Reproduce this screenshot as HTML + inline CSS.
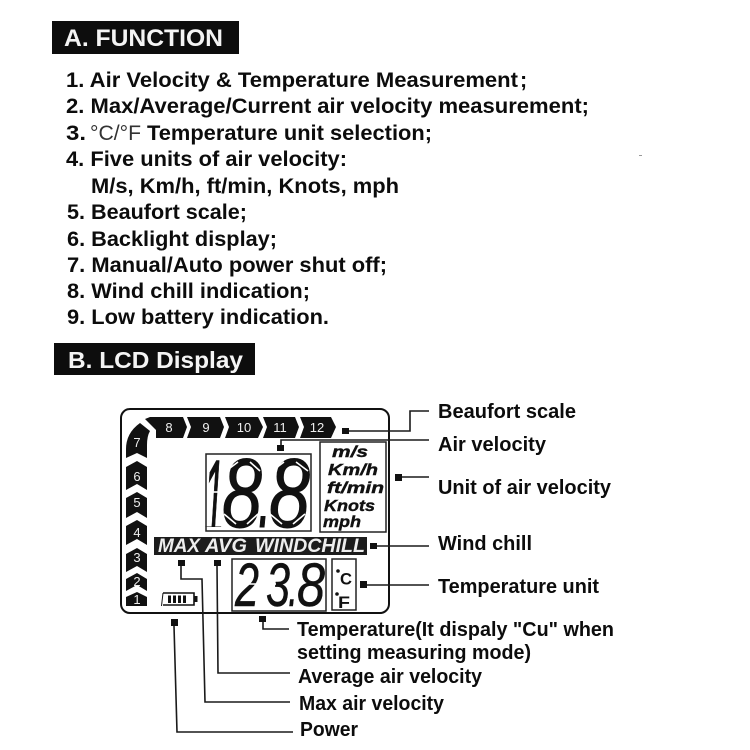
<!DOCTYPE html>
<html lang="en">
<head>
<meta charset="utf-8">
<title>Function and LCD Display</title>
<style>
html,body{margin:0;padding:0;background:#fff;width:750px;height:750px;overflow:hidden}
svg{display:block;filter:blur(.3px)}
text{font-family:"Liberation Sans",sans-serif}
.h{font-weight:700;font-size:24px;fill:#f4f4f4}
.l{font-weight:700;font-size:21.5px;fill:#0c0c0c}
.k{font-weight:700;font-size:20.5px;fill:#0c0c0c}
.n{font-weight:400;font-size:13px;fill:#eee;text-anchor:middle}
.u{font-weight:700;font-style:italic;font-size:16px;fill:#111;stroke:#111;stroke-width:.4}
.b{font-weight:700;font-style:italic;font-size:19px;fill:#eee}
.d{font-weight:400;font-style:italic;font-size:98px;fill:#111;stroke:#111;stroke-width:1}
.t{font-weight:400;font-style:italic;font-size:61px;fill:#111;stroke:#111;stroke-width:.5}
.c{fill:none;stroke:#1a1a1a;stroke-width:1.6}
.s{fill:#111}
.g{stroke:#fff;stroke-width:1.6}
</style>
</head>
<body>
<svg width="750" height="750" viewBox="0 0 750 750" xmlns="http://www.w3.org/2000/svg">
<rect width="750" height="750" fill="#fff"/>

<!-- Section A -->
<rect x="52" y="21" width="187" height="33" fill="#0d0d0d"/>
<text class="h" x="64" y="46" textLength="159" lengthAdjust="spacingAndGlyphs">A. FUNCTION</text>
<text class="l" x="66" y="87" textLength="452" lengthAdjust="spacingAndGlyphs">1. Air Velocity &amp; Temperature Measurement</text>
<text class="l" x="520" y="87">;</text>
<text class="l" x="66" y="113" textLength="523" lengthAdjust="spacingAndGlyphs">2. Max/Average/Current air velocity measurement;</text>
<text class="l" x="66" y="140" textLength="20" lengthAdjust="spacingAndGlyphs">3.</text>
<text x="90" y="140" font-size="21" fill="#333" textLength="51" lengthAdjust="spacingAndGlyphs">°C/°F</text>
<text class="l" x="147" y="140" textLength="285" lengthAdjust="spacingAndGlyphs">Temperature unit selection;</text>
<text class="l" x="66" y="166" textLength="281" lengthAdjust="spacingAndGlyphs">4. Five units of air velocity:</text>
<text class="l" x="91" y="193" textLength="308" lengthAdjust="spacingAndGlyphs">M/s, Km/h, ft/min, Knots, mph</text>
<text class="l" x="67" y="219" textLength="180" lengthAdjust="spacingAndGlyphs">5. Beaufort scale;</text>
<text class="l" x="67" y="246" textLength="210" lengthAdjust="spacingAndGlyphs">6. Backlight display;</text>
<text class="l" x="67" y="272" textLength="320" lengthAdjust="spacingAndGlyphs">7. Manual/Auto power shut off;</text>
<text class="l" x="67" y="298" textLength="243" lengthAdjust="spacingAndGlyphs">8. Wind chill indication;</text>
<text class="l" x="67" y="324" textLength="262" lengthAdjust="spacingAndGlyphs">9. Low battery indication.</text>
<rect x="639" y="155" width="3" height="1" fill="#999"/>

<!-- Section B -->
<rect x="54" y="343" width="201" height="32" fill="#0d0d0d"/>
<text class="h" x="68" y="368" textLength="175" lengthAdjust="spacingAndGlyphs" style="font-size:23px">B. LCD Display</text>

<!-- LCD frame -->
<rect x="121" y="409" width="268" height="204" rx="9" ry="9" fill="#fff" stroke="#111" stroke-width="2"/>

<!-- Beaufort chevrons: top row -->
<polygon class="s" points="145,419 150,417 183,417 187,427 183,438 156,438 156,430"/>
<polygon class="s" points="187,417 220,417 224,427 220,438 187,438 191,427"/>
<polygon class="s" points="225,417 258,417 263,427 258,438 225,438 229,427"/>
<polygon class="s" points="263,417 295,417 299,427 295,438 263,438 267,427"/>
<polygon class="s" points="300,417 331,417 336,427 331,438 300,438 304,427"/>
<text class="n" x="169" y="432">8</text>
<text class="n" x="206" y="432">9</text>
<text class="n" x="244" y="432">10</text>
<text class="n" x="280" y="432">11</text>
<text class="n" x="317" y="432">12</text>

<!-- Beaufort chevrons: left column -->
<path class="s" d="M140,423 L150,431 Q147,436 147,445 L147,458 L137,453 L126,458 L126,449 Q126,433 140,423 Z"/>
<polygon class="s" points="126,467 137,461 147,467 147,490 137,484 126,490"/>
<polygon class="s" points="126,498 137,492 147,498 147,518 137,512 126,518"/>
<polygon class="s" points="126,526 137,520 147,526 147,545 137,539 126,545"/>
<polygon class="s" points="126,554 137,548 147,554 147,572 137,566 126,572"/>
<polygon class="s" points="126,579 137,573 147,579 147,591 137,585 126,591"/>
<polygon class="s" points="126,597 137,592 147,597 147,606 126,606"/>
<text class="n" x="137" y="447">7</text>
<text class="n" x="137" y="481">6</text>
<text class="n" x="137" y="507">5</text>
<text class="n" x="137" y="537">4</text>
<text class="n" x="137" y="562">3</text>
<text class="n" x="137" y="586">2</text>
<text class="n" x="137" y="604">1</text>

<!-- Velocity readout -->
<text class="d" x="204" y="535" textLength="20" lengthAdjust="spacingAndGlyphs" style="font-size:108px">1</text>
<rect x="203" y="527" width="23" height="9" fill="#fff"/>
<text class="d" x="222" y="527" textLength="40" lengthAdjust="spacingAndGlyphs">8</text>
<text class="d" x="258" y="527" textLength="13" lengthAdjust="spacingAndGlyphs">.</text>
<text class="d" x="269" y="527" textLength="41" lengthAdjust="spacingAndGlyphs">8</text>
<rect x="206" y="454" width="105" height="77" fill="none" stroke="#222" stroke-width="1.5"/>
<line class="g" x1="208" y1="492" x2="224" y2="492"/>
<line class="g" x1="226" y1="471" x2="238" y2="462"/>
<line class="g" x1="260" y1="471" x2="250" y2="462"/>
<line class="g" x1="272" y1="471" x2="284" y2="462"/>
<line class="g" x1="308" y1="471" x2="296" y2="462"/>
<line class="g" x1="224" y1="514" x2="236" y2="524"/>
<line class="g" x1="258" y1="514" x2="247" y2="524"/>
<line class="g" x1="270" y1="514" x2="282" y2="524"/>
<line class="g" x1="305" y1="514" x2="293" y2="524"/>

<!-- Units -->
<rect x="320" y="442" width="66" height="90" fill="none" stroke="#222" stroke-width="1.5"/>
<text class="u" x="332" y="457" textLength="36" lengthAdjust="spacingAndGlyphs">m/s</text>
<text class="u" x="328" y="475" textLength="50" lengthAdjust="spacingAndGlyphs">Km/h</text>
<text class="u" x="327" y="493" textLength="57" lengthAdjust="spacingAndGlyphs">ft/min</text>
<text class="u" x="324" y="511" textLength="51" lengthAdjust="spacingAndGlyphs">Knots</text>
<text class="u" x="323" y="527" textLength="38" lengthAdjust="spacingAndGlyphs">mph</text>

<!-- Mode bar -->
<rect x="154" y="537" width="213" height="18" fill="#1c1c1c"/>
<text class="b" x="158" y="552" textLength="42" lengthAdjust="spacingAndGlyphs">MAX</text>
<text class="b" x="205" y="552" textLength="42" lengthAdjust="spacingAndGlyphs">AVG</text>
<text class="b" x="255" y="552" textLength="110" lengthAdjust="spacingAndGlyphs">WINDCHILL</text>

<!-- Temperature readout -->
<text class="t" x="235" y="606" textLength="24" lengthAdjust="spacingAndGlyphs">2</text>
<text class="t" x="266" y="606" textLength="24" lengthAdjust="spacingAndGlyphs">3</text>
<text class="t" x="288" y="606" textLength="10" lengthAdjust="spacingAndGlyphs">.</text>
<text class="t" x="297" y="606" textLength="28" lengthAdjust="spacingAndGlyphs">8</text>
<rect x="232" y="559" width="94" height="52" fill="none" stroke="#222" stroke-width="1.5"/>
<line class="g" x1="236" y1="584" x2="258" y2="584"/>
<line class="g" x1="268" y1="584" x2="276" y2="584"/>

<!-- Temperature unit -->
<rect x="332" y="559" width="24" height="51" fill="none" stroke="#222" stroke-width="1.5"/>
<circle class="s" cx="338" cy="571" r="1.8"/>
<text x="340" y="584.500" font-size="17" font-weight="700" fill="#111" textLength="12" lengthAdjust="spacingAndGlyphs">C</text>
<circle class="s" cx="337" cy="594" r="1.8"/>
<text x="338" y="608" font-size="17" font-weight="700" fill="#111" textLength="12" lengthAdjust="spacingAndGlyphs">F</text>

<!-- Battery -->
<path d="M163,593 H194 V605 H163" fill="none" stroke="#111" stroke-width="1.6"/>
<line x1="163" y1="593" x2="161.500" y2="606" stroke="#111" stroke-width="1"/>
<rect x="194" y="596" width="3.500" height="6" fill="#111"/>
<rect x="168" y="595.500" width="3" height="7.500" fill="#111"/>
<rect x="173" y="595.500" width="3" height="7.500" fill="#111"/>
<rect x="178" y="595.500" width="3" height="7.500" fill="#111"/>
<rect x="183" y="595.500" width="3" height="7.500" fill="#111"/>

<!-- Connectors: squares -->
<rect class="s" x="342" y="428" width="7" height="6"/>
<rect class="s" x="277" y="445" width="7" height="6"/>
<rect class="s" x="395" y="474" width="7" height="7"/>
<rect class="s" x="370" y="543" width="7" height="6"/>
<rect class="s" x="360" y="581" width="7" height="7"/>
<rect class="s" x="178" y="560" width="7" height="6"/>
<rect class="s" x="214" y="560" width="7" height="6"/>
<rect class="s" x="259" y="616" width="7" height="6"/>
<rect class="s" x="171" y="619" width="7" height="7"/>

<!-- Connectors: lines -->
<polyline class="c" points="349,431 410,431 410,411 429,411"/>
<polyline class="c" points="281,445 281,440 429,440"/>
<polyline class="c" points="402,477 429,477"/>
<polyline class="c" points="377,546 429,546"/>
<polyline class="c" points="367,585 429,585"/>
<polyline class="c" points="181,566 181,579 202,579 205,702 290,702"/>
<polyline class="c" points="217,566 218,673 290,673"/>
<polyline class="c" points="263,622 263,629 289,629"/>
<polyline class="c" points="174,626 177,732 293,732"/>

<!-- Connector labels -->
<text class="k" x="438" y="418" textLength="138" lengthAdjust="spacingAndGlyphs">Beaufort scale</text>
<text class="k" x="438" y="451" textLength="108" lengthAdjust="spacingAndGlyphs">Air velocity</text>
<text class="k" x="438" y="494" textLength="173" lengthAdjust="spacingAndGlyphs">Unit of air velocity</text>
<text class="k" x="438" y="550" textLength="94" lengthAdjust="spacingAndGlyphs">Wind chill</text>
<text class="k" x="438" y="593" textLength="161" lengthAdjust="spacingAndGlyphs">Temperature unit</text>
<text class="k" x="297" y="636" textLength="317" lengthAdjust="spacingAndGlyphs">Temperature(It dispaly "Cu" when</text>
<text class="k" x="297" y="659" textLength="234" lengthAdjust="spacingAndGlyphs">setting measuring mode)</text>
<text class="k" x="298" y="683" textLength="184" lengthAdjust="spacingAndGlyphs">Average air velocity</text>
<text class="k" x="299" y="710" textLength="145" lengthAdjust="spacingAndGlyphs">Max air velocity</text>
<text class="k" x="300" y="736" textLength="58" lengthAdjust="spacingAndGlyphs">Power</text>
</svg>
</body>
</html>
